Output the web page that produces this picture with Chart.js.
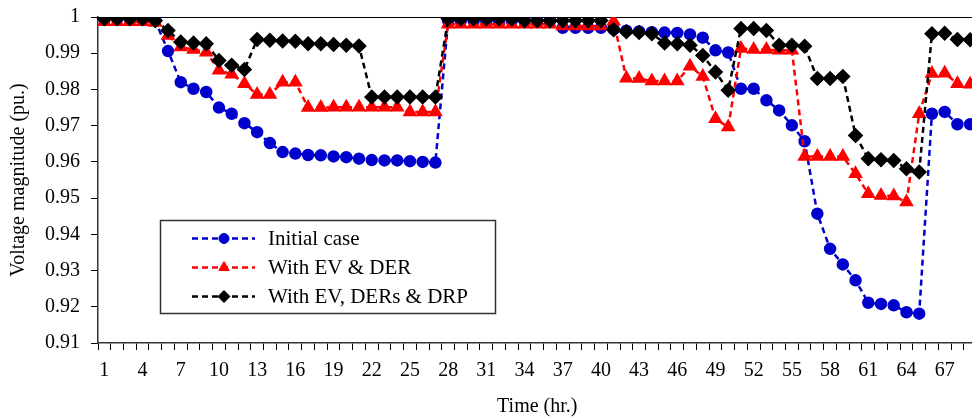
<!DOCTYPE html>
<html>
<head>
<meta charset="utf-8">
<script src="https://cdn.jsdelivr.net/npm/chart.js@4.4.0/dist/chart.umd.min.js"></script>
<style>
  html, body { margin: 0; padding: 0; overflow: hidden; background: #fff; }
  #wrap { width: 985px; height: 419px; }
</style>
</head>
<body>
<div id="wrap"><canvas id="graphic"></canvas></div>
<script>
var hours = [];
for (var h = 1; h <= 69; h++) hours.push(String(h));

var initialCase = [
  0.9995, 0.9995, 0.9995, 0.9995, 0.9990, 0.9906, 0.9820, 0.9802, 0.9793, 0.9750,
  0.9733, 0.9707, 0.9682, 0.9652, 0.9627, 0.9623, 0.9619, 0.9618, 0.9615, 0.9613,
  0.9609, 0.9605, 0.9604, 0.9604, 0.9602, 0.9600, 0.9598, 0.9990, 0.9990, 0.9990,
  0.9990, 0.9990, 0.9990, 0.9990, 0.9990, 0.9990, 0.9970, 0.9970, 0.9970, 0.9970,
  0.9966, 0.9962, 0.9960, 0.9958, 0.9957, 0.9956, 0.9952, 0.9943, 0.9908, 0.9902,
  0.9802, 0.9802, 0.9770, 0.9742, 0.9701, 0.9657, 0.9457, 0.9360, 0.9317, 0.9273,
  0.9211, 0.9208, 0.9204, 0.9185, 0.9181, 0.9733, 0.9738, 0.9704, 0.9704
];

var withEvDer = [
  0.9987, 0.9987, 0.9987, 0.9987, 0.9985, 0.9949, 0.9917, 0.9910, 0.9903, 0.9853,
  0.9842, 0.9816, 0.9786, 0.9786, 0.9820, 0.9820, 0.9750, 0.9750, 0.9751, 0.9751,
  0.9751, 0.9751, 0.9751, 0.9751, 0.9738, 0.9738, 0.9738, 0.9980, 0.9980, 0.9980,
  0.9980, 0.9980, 0.9980, 0.9980, 0.9980, 0.9980, 0.9975, 0.9975, 0.9975, 0.9975,
  0.9988, 0.9831, 0.9830, 0.9823, 0.9823, 0.9823, 0.9864, 0.9836, 0.9719, 0.9696,
  0.9913, 0.9910, 0.9910, 0.9908, 0.9908, 0.9615, 0.9615, 0.9615, 0.9615, 0.9567,
  0.9512, 0.9507, 0.9506, 0.9489, 0.9733, 0.9844, 0.9845, 0.9816, 0.9814
];

var withEvDerDrp = [
  0.9995, 0.9995, 0.9995, 0.9995, 0.9990, 0.9963, 0.9931, 0.9928, 0.9926, 0.9880,
  0.9867, 0.9855, 0.9938, 0.9936, 0.9934, 0.9933, 0.9926, 0.9926, 0.9924, 0.9922,
  0.9920, 0.9779, 0.9779, 0.9779, 0.9779, 0.9779, 0.9779, 0.9995, 0.9995, 0.9995,
  0.9995, 0.9995, 0.9995, 0.9990, 0.9990, 0.9990, 0.9990, 0.9990, 0.9990, 0.9990,
  0.9965, 0.9959, 0.9957, 0.9954, 0.9928, 0.9926, 0.9922, 0.9894, 0.9848, 0.9798,
  0.9968, 0.9968, 0.9963, 0.9922, 0.9922, 0.9919, 0.9830, 0.9830, 0.9836, 0.9673,
  0.9609, 0.9606, 0.9604, 0.9581, 0.9572, 0.9954, 0.9955, 0.9938, 0.9937
];

var serif = 'Liberation Serif, Times New Roman, serif';

// legend drawn inside the plot, boxed like the original
var boxLegend = {
  id: 'boxLegend',
  afterDraw: function (chart) {
    var c = chart.ctx;
    c.save();
    c.fillStyle = '#fff';
    c.fillRect(160, 220, 336, 93);
    c.strokeStyle = '#333';
    c.lineWidth = 1.5;
    c.strokeRect(160.5, 220.5, 335, 93);
    chart.data.datasets.forEach(function (ds, i) {
      var y = 238.5 + i * 29;
      c.strokeStyle = ds.borderColor;
      c.lineWidth = ds.borderWidth;
      c.setLineDash(ds.borderDash);
      c.beginPath();
      c.moveTo(192, y);
      c.lineTo(255, y);
      c.stroke();
      c.setLineDash([]);
      c.fillStyle = ds.pointBackgroundColor;
      c.strokeStyle = ds.pointBorderColor;
      c.lineWidth = 1;
      Chart.helpers.drawPoint(c, { pointStyle: ds.pointStyle, radius: ds.pointRadius, rotation: 0, borderWidth: 1 }, 224, y);
      c.fillStyle = '#000';
      c.font = '21px ' + serif;
      c.textBaseline = 'middle';
      c.textAlign = 'left';
      c.fillText(ds.label, 268, y + 1);
    });
    c.restore();
  }
};

var ctx = document.getElementById('graphic').getContext('2d');

var graphic = new Chart(ctx, {
  type: 'line',
  data: {
    labels: hours,
    datasets: [{
      label: 'Initial case',
      data: initialCase,
      borderColor: '#0000cc',
      borderWidth: 2.5,
      borderDash: [6, 4],
      pointStyle: 'circle',
      pointRadius: 5,
      pointBackgroundColor: '#0000cc',
      pointBorderColor: '#0000cc',
      order: 3
    }, {
      label: 'With EV & DER',
      data: withEvDer,
      borderColor: '#ff0000',
      borderWidth: 2.5,
      borderDash: [6, 4],
      pointStyle: 'triangle',
      pointRadius: 6,
      pointBackgroundColor: '#ff0000',
      pointBorderColor: '#ff0000',
      order: 2
    }, {
      label: 'With EV, DERs & DRP',
      data: withEvDerDrp,
      borderColor: '#000000',
      borderWidth: 2.5,
      borderDash: [6, 4],
      pointStyle: 'rectRot',
      pointRadius: 6,
      pointBackgroundColor: '#000000',
      pointBorderColor: '#000000',
      order: 1
    }]
  },
  options: {
    responsive: true,
    maintainAspectRatio: false,
    animation: false,
    layout: { padding: { top: 17, right: 0, left: 0, bottom: 0 } },
    elements: { line: { tension: 0 } },
    plugins: {
      legend: { display: false },
      tooltip: { enabled: false }
    },
    scales: {
      x: {
        type: 'category',
        offset: true,
        afterFit: function (s) { s.height = 76; s.paddingLeft = 0; s.paddingRight = 0; },
        grid: { display: true, drawOnChartArea: false, offset: true, tickLength: 7, color: '#000', lineWidth: 1 },
        border: { color: '#333', width: 1.5 },
        ticks: {
          autoSkip: false,
          maxRotation: 0,
          padding: 9,
          color: '#000',
          font: { family: serif, size: 20 },
          callback: function (v, i) { return i % 3 === 0 ? hours[i] : ''; }
        },
        title: {
          display: true,
          text: 'Time (hr.)',
          color: '#000',
          font: { family: serif, size: 20 },
          padding: { top: 4, bottom: 0 }
        }
      },
      y: {
        min: 0.91,
        max: 1,
        afterFit: function (s) { s.width = 98; s.paddingTop = 0; s.paddingBottom = 0; },
        grid: {
          drawOnChartArea: true,
          tickLength: 7,
          tickColor: '#000',
          color: function (c) { return c.tick && c.tick.value === 1 ? '#000' : 'rgba(0,0,0,0)'; },
          lineWidth: 1
        },
        border: { color: '#333', width: 1.5 },
        ticks: {
          stepSize: 0.01,
          padding: 11,
          color: '#000',
          font: { family: serif, size: 20 },
          callback: function (v) { return String(+v.toFixed(2)); }
        },
        title: {
          display: true,
          text: 'Voltage magnitude (pu.)',
          color: '#000',
          font: { family: serif, size: 20 },
          padding: { top: 7, bottom: 0 }
        }
      }
    }
  },
  plugins: [boxLegend]
});
</script>
</body>
</html>
